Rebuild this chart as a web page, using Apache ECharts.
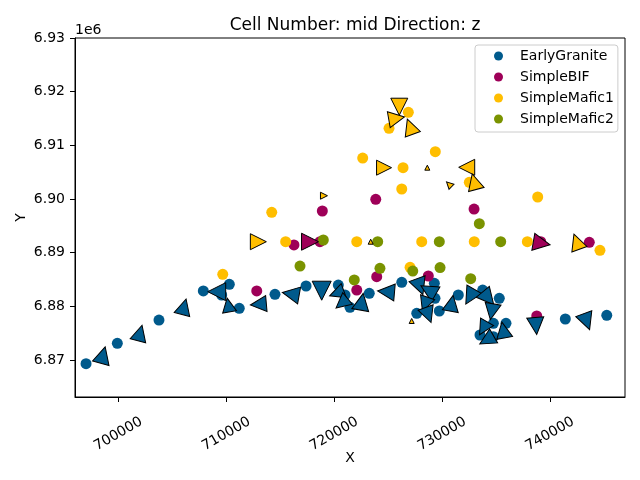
<!DOCTYPE html>
<html>
<head>
<meta charset="utf-8">
<script src="https://cdn.jsdelivr.net/npm/echarts@6/dist/echarts.min.js"></script>
<style>html,body{margin:0;padding:0;background:#fff}#c{width:640px;height:480px}</style>
</head>
<body>
<div id="c"></div>
<script>
// Unit names
const categories = ['EarlyGranite', 'SimpleBIF', 'SimpleMafic1', 'SimpleMafic2'];
// Contact points [X, Y]
const earlyGranitePts = [[697010,6869320],[699910,6873120],[703770,6877460],[707880,6882870],[709580,6882120],[710290,6884110],[711210,6879640],[714520,6882250],[717400,6883800],[720390,6883980],[721010,6882120],[721470,6879830],[723260,6882440],[726270,6884490],[729290,6884300],[729350,6881510],[727660,6878710],[729750,6879140],[731510,6882120],[733770,6883050],[735310,6881510],[734760,6876850],[735930,6876850],[733520,6874670],[734760,6874350],[741430,6877650],[745270,6878340]];
const simpleBIFPts = [[712830,6882870],[718910,6897770],[716280,6891440],[718690,6892050],[723860,6899950],[723950,6885530],[722100,6883050],[728730,6885660],[732970,6898140],[739150,6892050],[743650,6891940],[738780,6878210]];
const simpleMafic1Pts = [[726880,6916160],[725090,6913180],[729380,6908820],[722650,6907640],[726390,6905840],[732530,6903120],[726270,6901870],[714220,6897530],[715510,6892050],[722100,6892050],[728120,6892050],[732990,6892050],[737910,6892050],[738870,6900380],[744640,6890450],[709680,6885980],[727040,6887280]];
const simpleMafic2Pts = [[716840,6887520],[719000,6892370],[724040,6892050],[729750,6892050],[735440,6892050],[733460,6895400],[721870,6884920],[724250,6887100],[727290,6886590],[729820,6887240],[732660,6885160]];
// Orientation data [X, Y, direction (deg, counter-clockwise from north), magnitude]
const earlyGraniteOri = [[698580,6870940,-15,16],[702010,6875040,-15,15],[706090,6879940,-15,15],[709120,6882740,90,17],[710200,6880260,10,13],[712980,6880390,95,15],[715980,6882310,80,16],[718850,6882920,180,18],[720240,6882440,110,14],[720710,6880580,130,14],[722560,6880870,-10,16],[724810,6882740,85,16],[727960,6883670,200,16],[728730,6883050,60,16],[728430,6880390,160,14],[728730,6878400,200,15],[730900,6880580,-10,15],[732600,6881800,150,16],[734290,6881510,220,16],[734610,6879010,170,15],[733830,6875920,150,14],[735680,6875600,10,15],[734140,6873740,120,15],[738710,6876350,185,16],[743410,6877150,200,16]];
const simpleBIFOri = [[717770,6892050,-90,16],[739240,6891750,-100,16]];
const simpleMafic1Ori = [[726040,6917200,180,16],[725800,6915040,-80,15],[727040,6913480,20,15],[724630,6905840,-90,14],[732290,6905910,90,15],[732990,6903230,15,15],[730650,6902740,45,6],[719060,6900620,-90,6],[712980,6892050,-90,15],[742480,6892050,20,15],[723390,6892050,0,4],[727190,6877280,0,4],[728640,6905840,0,4]];
const simpleMafic2Ori = [];
// Axis ticks
const xTicks = [700000, 710000, 720000, 730000, 740000];
const yTicks = [6870000, 6880000, 6890000, 6900000, 6910000, 6920000, 6930000];

const colors = ['#005a8c', '#9e0058', '#ffbe00', '#7a9300'];
const pts = [earlyGranitePts, simpleBIFPts, simpleMafic1Pts, simpleMafic2Pts];
const oris = [earlyGraniteOri, simpleBIFOri, simpleMafic1Ori, simpleMafic2Ori];
const FONT = 'DejaVu Sans';

const series = [];
categories.forEach((name, i) => {
  series.push({
    name: name, type: 'scatter', data: pts[i], symbol: 'circle', symbolSize: 11,
    itemStyle: { color: colors[i], opacity: 1 }, z: 2, emphasis: { disabled: true }
  });
});
categories.forEach((name, i) => {
  series.push({
    name: name + ' orientation', type: 'scatter', data: oris[i], symbol: 'triangle',
    symbolSize: v => v[3] + 1, symbolRotate: v => v[2],
    itemStyle: { color: colors[i], borderColor: '#000', borderWidth: 1, opacity: 1 }, z: 3,
    emphasis: { disabled: true }
  });
});

const chart = echarts.init(document.getElementById('c'), null, { renderer: 'canvas' });
chart.setOption({
  animation: false,
  backgroundColor: '#fff',
  textStyle: { fontFamily: FONT },
  title: {
    text: 'Cell Number: mid Direction: z', left: 350, top: 12, textAlign: 'center',
    textStyle: { fontFamily: FONT, fontSize: 17, fontWeight: 'normal', color: '#000' }
  },
  grid: { left: 75, top: 38, width: 550, height: 359, show: true, borderColor: '#000', borderWidth: 1, backgroundColor: 'transparent' },
  legend: {
    data: categories, orient: 'vertical', left: 475, top: 45,
    padding: [3, 4, 5, 19], itemWidth: 33, itemHeight: 9, itemGap: 5, icon: 'circle',
    textStyle: { fontFamily: FONT, fontSize: 14, lineHeight: 16, color: '#000' },
    backgroundColor: 'rgba(255,255,255,0.8)', borderColor: '#cccccc', borderWidth: 1, borderRadius: 3
  },
  xAxis: {
    type: 'value', min: 695987, max: 746960,
    name: 'X', nameLocation: 'middle', nameGap: 54, nameMoveOverlap: false,
    nameTextStyle: { fontFamily: FONT, fontSize: 14, color: '#000' },
    axisLine: { show: true, lineStyle: { color: '#000', width: 1 } },
    axisTick: { show: true, length: 5, customValues: xTicks, lineStyle: { color: '#000' } },
    axisLabel: { customValues: xTicks, rotate: 30, align: 'center', verticalAlign: 'middle', margin: 37,
      fontFamily: FONT, fontSize: 14, color: '#000', formatter: v => String(v) },
    splitLine: { show: false }
  },
  yAxis: {
    type: 'value', min: 6863120, max: 6930000,
    name: 'Y', nameLocation: 'middle', nameGap: 47, nameRotate: 90, nameMoveOverlap: false,
    nameTextStyle: { fontFamily: FONT, fontSize: 14, color: '#000' },
    axisLine: { show: true, lineStyle: { color: '#000', width: 1 } },
    axisTick: { show: true, length: 5, customValues: yTicks, lineStyle: { color: '#000' } },
    axisLabel: { customValues: yTicks, margin: 10, fontFamily: FONT, fontSize: 14, color: '#000',
      formatter: v => (v / 1e6).toFixed(2) },
    splitLine: { show: false }
  },
  graphic: [{
    type: 'text', left: 75, top: 23,
    style: { text: '1e6', fontFamily: FONT, fontSize: 14, fill: '#000' }
  }],
  series: series
});
</script>
</body>
</html>
